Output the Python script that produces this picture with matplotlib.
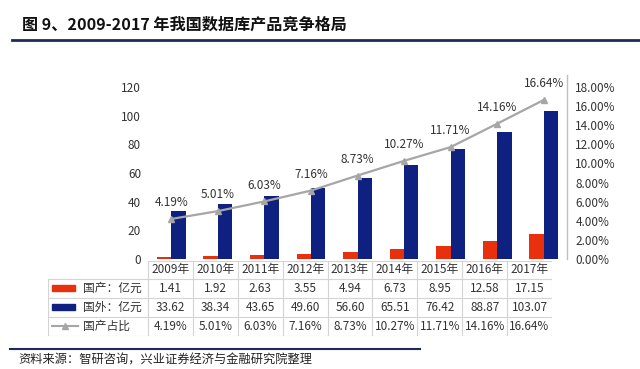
import matplotlib
matplotlib.use("Agg")
import matplotlib.pyplot as plt
from matplotlib.patches import Rectangle
from matplotlib.lines import Line2D

plt.rcParams['font.family'] = ['Noto Sans CJK SC', 'DejaVu Sans']

years = ["2009年", "2010年", "2011年", "2012年", "2013年", "2014年", "2015年", "2016年", "2017年"]
domestic = [1.41, 1.92, 2.63, 3.55, 4.94, 6.73, 8.95, 12.58, 17.15]
foreign = [33.62, 38.34, 43.65, 49.60, 56.60, 65.51, 76.42, 88.87, 103.07]
share = [4.19, 5.01, 6.03, 7.16, 8.73, 10.27, 11.71, 14.16, 16.64]
row_labels = ["国产：亿元", "国外：亿元", "国产占比"]
left_ticks = [0, 20, 40, 60, 80, 100, 120]
right_ticks = [0, 2, 4, 6, 8, 10, 12, 14, 16, 18]

title = "图 9、2009-2017 年我国数据库产品竞争格局"
source = "资料来源：智研咨询，兴业证券经济与金融研究院整理"

RED = "#E8300E"
NAVY = "#0E2180"
GRAY = "#A6A6A6"
GRID = "#D4D4D4"

W, H = 640, 369
fig = plt.figure(figsize=(W / 100, H / 100), dpi=100)

def fx(px):
    return px / W

def fy(py):
    return 1 - py / H

# title and rules
fig.text(fx(22), fy(25), title, fontsize=11.6, fontweight='bold', va='center', ha='left', color='#111111')
fig.add_artist(Line2D([fx(12), fx(640)], [fy(40), fy(40)], color='#1F2A5C', lw=2))
fig.add_artist(Line2D([fx(10), fx(420)], [fy(349), fy(349)], color='#1F2A5C', lw=1.5))
fig.text(fx(18), fy(360), source, fontsize=8.8, va='center', ha='left', color='#222222')

# main axes
top_px, bot_px = 75, 259
ax = fig.add_axes([fx(148), fy(bot_px), fx(567) - fx(148), fy(top_px) - fy(bot_px)])
ymax = 120 * (bot_px - top_px) / (259 - 87)
n = len(years)
x = list(range(n))
bw = 0.31
ax.bar([i - bw / 2 for i in x], domestic, width=bw, color=RED)
ax.bar([i + bw / 2 for i in x], foreign, width=bw, color=NAVY)
ax.set_xlim(-0.5, n - 0.5)
ax.set_ylim(0, ymax)
ax.set_yticks(left_ticks)
ax.set_yticklabels([str(t) for t in left_ticks], fontsize=8.5, color='#333333')
ax.tick_params(axis='y', length=0, pad=5)
ax.set_xticks([])
for s in ax.spines.values():
    s.set_visible(False)

ax2 = ax.twinx()
ax2.set_ylim(0, 18 * ymax / 120)
ax2.plot(x, share, color=GRAY, lw=1.6, marker='^', markersize=5, markerfacecolor=GRAY, markeredgecolor=GRAY)
for xi, v in zip(x, share):
    ax2.annotate(f"{v:.2f}%", (xi, v), xytext=(0, 7), textcoords='offset points',
                 ha='center', va='bottom', fontsize=8.5, color='#333333', annotation_clip=False)
ax2.set_yticks(right_ticks)
ax2.set_yticklabels([f"{t:.2f}%" for t in right_ticks], fontsize=8.5, color='#333333')
ax2.tick_params(axis='y', length=0, pad=6)
for k, s in ax2.spines.items():
    s.set_visible(k == 'right')
ax2.spines['right'].set_color('#BFBFBF')
ax2.spines['right'].set_linewidth(1)

# table axes
tl, tr = 48, 552
tab = fig.add_axes([fx(tl), fy(336), fx(tr) - fx(tl), fy(261) - fy(336)])
lab_w = 100 / ((tr - 148) / n)
tab.set_xlim(-lab_w, n)
tab.set_ylim(336, 261)
tab.axis('off')
rows_y = [261, 279, 298, 317, 336]
lw = 0.8
tab.plot([0, n], [rows_y[0]] * 2, color=GRID, lw=lw)
for yy in rows_y[1:]:
    tab.plot([-lab_w, n], [yy, yy], color=GRID, lw=lw)
for i in range(n + 1):
    tab.plot([i, i], [rows_y[0], rows_y[-1]], color=GRID, lw=lw)
tab.plot([-lab_w, -lab_w], [rows_y[1], rows_y[-1]], color=GRID, lw=lw)

for i, yr in enumerate(years):
    tab.text(i + 0.5, (rows_y[0] + rows_y[1]) / 2, yr, ha='center', va='center', fontsize=8.5, color='#333333')
for i in range(n):
    tab.text(i + 0.5, (rows_y[1] + rows_y[2]) / 2, f"{domestic[i]:.2f}", ha='center', va='center', fontsize=8.5, color='#333333')
    tab.text(i + 0.5, (rows_y[2] + rows_y[3]) / 2, f"{foreign[i]:.2f}", ha='center', va='center', fontsize=8.5, color='#333333')
    tab.text(i + 0.5, (rows_y[3] + rows_y[4]) / 2, f"{share[i]:.2f}%", ha='center', va='center', fontsize=8.5, color='#333333')

unit = (tr - 148) / n
def ux(px):
    return (px - 148) / unit

for r, (lab, col) in enumerate(zip(row_labels, [RED, NAVY, None])):
    yc = (rows_y[r + 1] + rows_y[r + 2]) / 2
    if col is not None:
        tab.add_patch(Rectangle((ux(52), yc - 3), ux(75) - ux(52), 6, color=col))
    else:
        tab.plot([ux(52), ux(78)], [yc, yc], color=GRAY, lw=1.5)
        tab.plot([(ux(52) + ux(78)) / 2], [yc], marker='^', color=GRAY, markersize=4)
    tab.text(ux(83), yc, lab, ha='left', va='center', fontsize=8.5, color='#333333')

fig.savefig("out.png", dpi=100)
